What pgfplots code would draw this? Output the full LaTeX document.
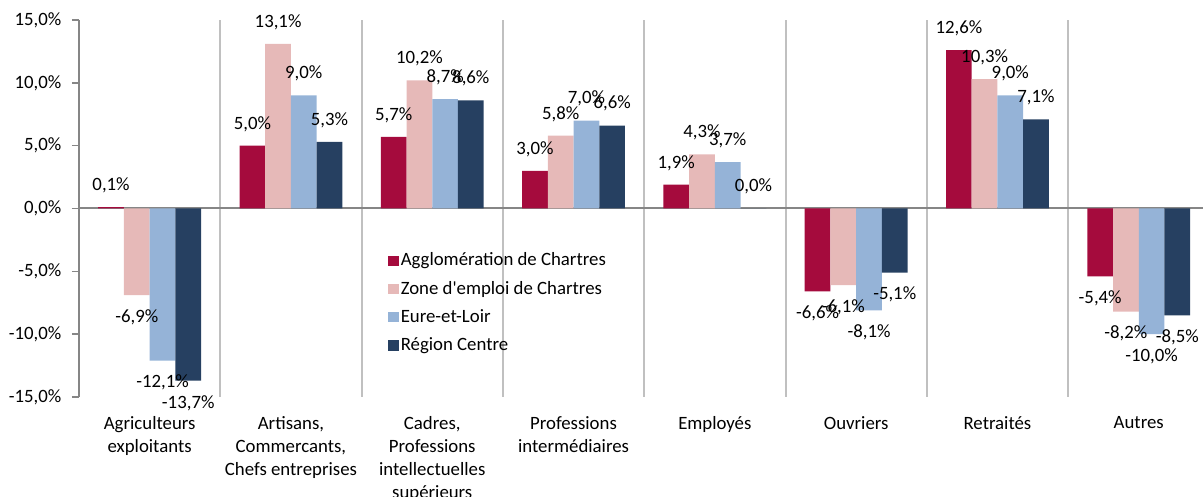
\documentclass[border=0pt]{standalone}
\usepackage{fontspec}
\setmainfont{Carlito}
\usepackage{pgfplots}
\pgfplotsset{compat=1.18}

\definecolor{cRed}{HTML}{A50B3D}
\definecolor{cPink}{HTML}{E6B9B8}
\definecolor{cBlue}{HTML}{95B3D7}
\definecolor{cNavy}{HTML}{264061}
\definecolor{axisgray}{HTML}{868686}
\definecolor{sepgray}{HTML}{C0C0C0}

\begin{document}
\fontsize{9.4}{11.4}\selectfont
\begin{tikzpicture}
\begin{axis}[
  name=ax, at={(0,0)}, anchor=south west,
  scale only axis, width=565.2pt, height=188.5pt,
  /pgf/number format/assume math mode=true,
  xmin=-0.5, xmax=7.5,
  ymin=-15, ymax=15,
  ytick={-15,-10,...,15},
  yticklabel={\pgfmathprintnumber[fixed,fixed zerofill,precision=1,use comma]{\tick}\%},
  yticklabel style={xshift=-2pt},
  xtick={0,...,7},
  xticklabels={
    {Agriculteurs\\exploitants},
    {Artisans,\\Commercants,\\Chefs entreprises},
    {Cadres,\\Professions\\intellectuelles\\supérieurs},
    {Professions\\intermédiaires},
    {Employés},
    {Ouvriers},
    {Retraités},
    {Autres}},
  xticklabel style={align=center, yshift=-3pt},
  axis y line*=left,
  axis x line*=bottom,
  x axis line style={draw=none},
  y axis line style={draw=axisgray, line width=1pt},
  tick align=outside,
  major tick length=3.5pt,
  ytick style={draw=axisgray, line width=0.8pt},
  xtick style={draw=none},
  minor xtick={0.5,1.5,...,7.5},
  minor tick length=0pt,
  xminorgrids=true,
  minor grid style={draw=sepgray, line width=1pt},
  extra y ticks={0},
  extra y tick labels={},
  extra y tick style={ymajorgrids=true, major grid style={draw=axisgray, line width=1pt}},
  ybar=0pt, bar width=0.182,
  clip=false,
  nodes near coords={\pgfmathprintnumber[fixed,fixed zerofill,precision=1,use comma]{\pgfplotspointmeta}\%},
  every node near coord/.append style={text=black, inner ysep=7pt, text height=6.5pt, text depth=1.1pt},
  legend style={at={(0.268,0.402)}, anchor=north west, draw=none, fill=none,
    nodes={inner sep=1pt, text height=7pt, text depth=2pt}, row sep=3.1pt},
  legend cell align=left,
  legend image code/.code={\fill[#1] (0pt,-2.6pt) rectangle (5.2pt,2.6pt);},
]

\addplot[fill=cRed, draw=none] coordinates {
  (0,0.1) (1,5.0) (2,5.7) (3,3.0) (4,1.9) (5,-6.6) (6,12.6) (7,-5.4)};
\addplot[fill=cPink, draw=none] coordinates {
  (0,-6.9) (1,13.1) (2,10.2) (3,5.8) (4,4.3) (5,-6.1) (6,10.3) (7,-8.2)};
\addplot[fill=cBlue, draw=none] coordinates {
  (0,-12.1) (1,9.0) (2,8.7) (3,7.0) (4,3.7) (5,-8.1) (6,9.0) (7,-10.0)};
\addplot[fill=cNavy, draw=none] coordinates {
  (0,-13.7) (1,5.3) (2,8.6) (3,6.6) (4,0.0) (5,-5.1) (6,7.1) (7,-8.5)};

\legend{Agglomération de Chartres, Zone d\textquotesingle emploi de Chartres, Eure-et-Loir, Région Centre}
\end{axis}
\pgfresetboundingbox
\path[use as bounding box] (-39.5pt,-50pt) rectangle (562pt,198.5pt);
\end{tikzpicture}
\end{document}
